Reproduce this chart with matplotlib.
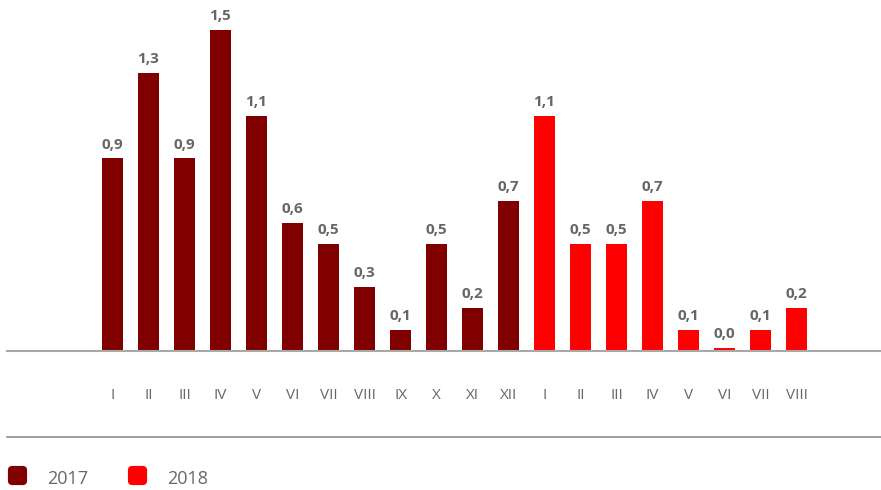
import matplotlib
matplotlib.use("Agg")
import matplotlib.pyplot as plt
from matplotlib.patches import FancyBboxPatch
from matplotlib.lines import Line2D

months_2017 = ["I", "II", "III", "IV", "V", "VI", "VII", "VIII", "IX", "X", "XI", "XII"]
values_2017 = [0.9, 1.3, 0.9, 1.5, 1.1, 0.6, 0.5, 0.3, 0.1, 0.5, 0.2, 0.7]
months_2018 = ["I", "II", "III", "IV", "V", "VI", "VII", "VIII"]
values_2018 = [1.1, 0.5, 0.5, 0.7, 0.1, 0.014, 0.1, 0.2]
series_names = ["2017", "2018"]
colors = ["#800000", "#ff0000"]

W, H = 881, 490
plt.rcParams['font.family'] = ['Open Sans', 'DejaVu Sans']
fig = plt.figure(figsize=(W / 100, H / 100), dpi=100)

base_px = 351
ax = fig.add_axes([7 / W, (H - base_px) / H, (W - 7) / W, base_px / H])
ax.set_facecolor('none')

x17 = list(range(len(values_2017)))
x18 = [len(values_2017) + i for i in range(len(values_2018))]
bw = 21 / 36
ax.bar(x17, values_2017, width=bw, color=colors[0])
ax.bar(x18, values_2018, width=bw, color=colors[1])

for x, v in list(zip(x17, values_2017)) + list(zip(x18, values_2018)):
    ax.annotate(f"{v:.1f}".replace(".", ","), (x, v), xytext=(0, 7.0),
                textcoords='offset points', ha='center', va='baseline',
                fontsize=11, fontweight='bold', color='#666666')

ax.set_xlim((7 - 112.5) / 36, (881 - 112.5) / 36)
ax.set_ylim(0, base_px / 214)
ax.set_xticks(x17 + x18)
ax.set_xticklabels(months_2017 + months_2018, fontsize=11, color='#666666')
ax.tick_params(axis='x', length=0, pad=26.5)
ax.set_yticks([])
for s in ['top', 'right', 'left']:
    ax.spines[s].set_visible(False)
ax.spines['bottom'].set_color('#a8a8a8')
ax.spines['bottom'].set_linewidth(1.5)

# separator line
sep_y = (H - 437) / H
fig.add_artist(Line2D([7 / W, 1.0], [sep_y, sep_y], transform=fig.transFigure,
                      color='#8c8c8c', linewidth=1.2))

# legend
leg_sq_x = [8, 128]
leg_txt_x = [47, 167]
sq = 19
for name, c, sx, tx in zip(series_names, colors, leg_sq_x, leg_txt_x):
    p = FancyBboxPatch(((sx + 3) / W, (H - 485 + 3) / H), (sq - 6) / W, (sq - 6) / H,
                       boxstyle="round,pad=0.0035,rounding_size=0.005",
                       transform=fig.transFigure, facecolor=c, edgecolor='none',
                       mutation_aspect=W / H)
    fig.add_artist(p)
    fig.text(tx / W, (H - 479) / H, name, ha='left', va='center',
             fontsize=13, color='#666666')

fig.savefig("out.png", dpi=100)
